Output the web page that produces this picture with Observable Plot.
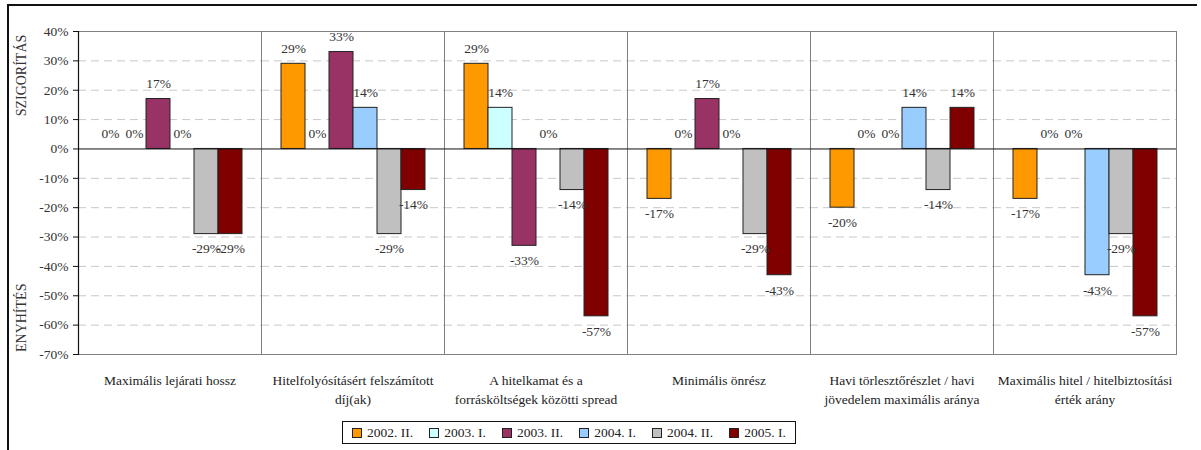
<!DOCTYPE html>
<html>
<head>
<meta charset="utf-8">
<script src="https://cdn.jsdelivr.net/npm/d3@7"></script>
<script src="https://cdn.jsdelivr.net/npm/@observablehq/plot@0.6"></script>
<style>
  html, body { margin: 0; padding: 0; background: #fff; }
  #wrap { position: relative; width: 1201px; height: 450px; overflow: hidden; font-family: "Liberation Serif", "Times New Roman", "DejaVu Serif", serif; }
  #border { position: absolute; left: 7px; top: 4px; width: 1190px; height: 460px; border-top: 2px solid #111; border-left: 2px solid #111; box-sizing: border-box; }
  #chart { position: absolute; left: 0; top: 0; }
  #legend { position: absolute; left: 342px; top: 421px; width: 454px; height: 23px; border: 1px solid #111; box-sizing: border-box;
            display: flex; align-items: center; justify-content: space-between; padding: 0 9px; font-size: 13.5px; color: #222; }
  #legend .item { display: flex; align-items: center; white-space: nowrap; }
  #legend .sw { width: 8px; height: 8px; border: 1px solid #222; margin-right: 5px; }
</style>
</head>
<body>
<div id="wrap">
  <div id="border"></div>
  <div id="chart"></div>
  <div id="legend"></div>
</div>
<script>
// Credit conditions questions (categories along the bottom)
const categories = [
  "Maximális lejárati hossz",
  "Hitelfolyósításért felszámított díj(ak)",
  "A hitelkamat és a forrásköltségek közötti spread",
  "Minimális önrész",
  "Havi törlesztőrészlet / havi jövedelem maximális aránya",
  "Maximális hitel / hitelbiztosítási érték arány"
];
// Two-line labels as printed under each group
const categoryLabels = [
  "Maximális lejárati hossz",
  "Hitelfolyósításért felszámított\ndíj(ak)",
  "A hitelkamat és a\nforrásköltségek közötti spread",
  "Minimális önrész",
  "Havi törlesztőrészlet / havi\njövedelem maximális aránya",
  "Maximális hitel / hitelbiztosítási\nérték arány"
];

// Survey periods and their colours
const series = ["2002. II.", "2003. I.", "2003. II.", "2004. I.", "2004. II.", "2005. I."];
const colors = ["#FF9900", "#CCFFFF", "#993366", "#99CCFF", "#C0C0C0", "#800000"];

// Net percentage of respondents per period, one value per category (%)
const v2002II = [0, 29, 29, -17, -20, -17];
const v2003I  = [0, 0, 14, 0, 0, 0];
const v2003II = [17, 33, -33, 17, 0, 0];
const v2004I  = [0, 14, 0, 0, 14, -43];
const v2004II = [-29, -29, -14, -29, -14, -29];
const v2005I  = [-29, -14, -57, -43, 14, -57];
const seriesValues = [v2002II, v2003I, v2003II, v2004I, v2004II, v2005I];

// Y axis ticks
const yTicks = [40, 30, 20, 10, 0, -10, -20, -30, -40, -50, -60, -70];
const gridTicks = [30, 20, 10, -10, -20, -30, -40, -50, -60];

// Side captions
const upLabel = ["SZIGORÍTÁS"];
const downLabel = ["ENYHÍTÉS"];

const data = categories.flatMap((c, i) =>
  series.map((s, j) => ({category: c, series: s, value: seriesValues[j][i]}))
);
const pct = d => d.value + "%";
const font = "'Liberation Serif', 'Times New Roman', 'DejaVu Serif', serif";

const chart = Plot.plot({
  width: 1201,
  height: 420,
  marginLeft: 76,
  marginRight: 23,
  marginTop: 31,
  marginBottom: 66,
  style: {fontFamily: font, fontSize: "13.5px", color: "#333", background: "transparent", overflow: "visible"},
  fx: {domain: categories, padding: 0, label: null},
  x: {domain: series, paddingInner: 0, paddingOuter: 0.75, axis: null},
  y: {domain: [-70, 40], label: null},
  color: {domain: series, range: colors},
  marks: [
    Plot.ruleY(gridTicks, {stroke: "#c8c8c8", strokeDasharray: "8,5"}),
    Plot.frame({stroke: "#808080"}),
    Plot.barY(data.filter(d => d.value !== 0), {
      fx: "category", x: "series", y: "value", fill: "series",
      stroke: "#222", strokeWidth: 1
    }),
    Plot.ruleY([0], {stroke: "#111"}),
    Plot.text(data.filter(d => d.value >= 0), {
      fx: "category", x: "series", y: "value", text: pct, dy: -15, fill: "#333", fontSize: 13.5
    }),
    Plot.text(data.filter(d => d.value < 0), {
      fx: "category", x: "series", y: "value", text: pct, dy: 15, fill: "#333", fontSize: 13.5
    }),
    Plot.frame({anchor: "left", stroke: "#111", strokeWidth: 1.2, facetAnchor: "left"}),
    Plot.axisY({
      ticks: yTicks, tickFormat: d => d + "%", tickSize: 5, tickPadding: 5,
      fontSize: 13.5, fill: "#333", stroke: "#111", label: null
    }),
    Plot.axisFx({
      anchor: "bottom", tickSize: 0, tickPadding: 17, label: null,
      tickFormat: c => categoryLabels[categories.indexOf(c)],
      lineHeight: 1.42, fontSize: 13.5, fill: "#222"
    }),
    Plot.text(upLabel, {
      y: [25], frameAnchor: "left", textAnchor: "middle", dx: -57, rotate: -90, fontSize: 14, fill: "#333", facetAnchor: "left"
    }),
    Plot.text(downLabel, {
      y: [-57.5], frameAnchor: "left", textAnchor: "middle", dx: -57, rotate: -90, fontSize: 14, fill: "#333", facetAnchor: "left"
    })
  ]
});
document.getElementById("chart").appendChild(chart);

// Legend box
const legend = d3.select("#legend");
series.forEach((s, i) => {
  const item = legend.append("div").attr("class", "item");
  item.append("div").attr("class", "sw").style("background", colors[i]);
  item.append("span").text(s);
});
</script>
</body>
</html>
